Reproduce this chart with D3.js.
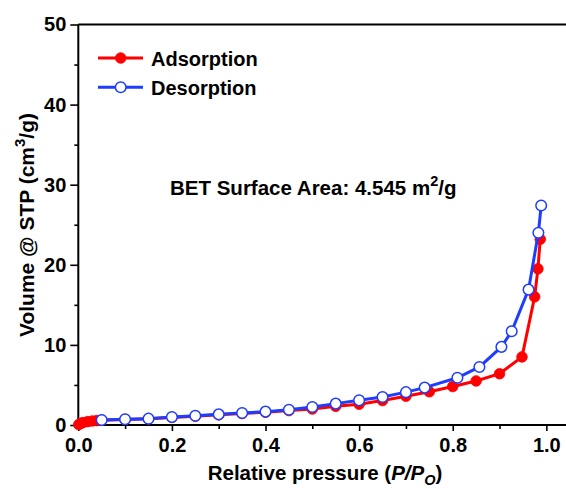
<!DOCTYPE html>
<html>
<head>
<meta charset="utf-8">
<script src="https://cdn.jsdelivr.net/npm/d3@7"></script>
<style>
  body { margin: 0; background: #fff; }
  svg text { font-family: "Liberation Sans", Arial, sans-serif; font-weight: bold; fill: #000; }
</style>
</head>
<body>
<svg id="chart" width="566" height="489"></svg>
<script>
// ── Data ──────────────────────────────────────────────────────────────────────
const adsP = [0.001, 0.005, 0.01, 0.02, 0.03, 0.04, 0.05, 0.1, 0.15, 0.2, 0.25, 0.3, 0.35, 0.4, 0.45,
  0.5, 0.55, 0.6, 0.65, 0.7, 0.75, 0.8, 0.85, 0.9, 0.948, 0.975, 0.982, 0.987];
const adsV = [0.05, 0.2, 0.3, 0.42, 0.5, 0.56, 0.6, 0.7, 0.78, 0.95, 1.1, 1.27, 1.43, 1.6, 1.8,
  2.0, 2.33, 2.6, 3.05, 3.6, 4.15, 4.8, 5.5, 6.4, 8.5, 16.0, 19.5, 23.2];
const desP = [0.05, 0.1, 0.15, 0.2, 0.25, 0.3, 0.35, 0.4, 0.45, 0.5, 0.55, 0.6, 0.65, 0.7, 0.74,
  0.81, 0.857, 0.904, 0.926, 0.962, 0.983, 0.989];
const desV = [0.62, 0.71, 0.79, 1.0, 1.16, 1.33, 1.5, 1.67, 1.9, 2.25, 2.67, 3.08, 3.5, 4.1, 4.67,
  5.9, 7.25, 9.75, 11.7, 16.9, 24.0, 27.4];
const xTicks = [0, 0.2, 0.4, 0.6, 0.8, 1.0];
const yTicks = [0, 10, 20, 30, 40, 50];

const series = [
  { name: "Adsorption", color: "#ff0000", filled: true, pts: adsP.map((p, i) => [p, adsV[i]]) },
  { name: "Desorption", color: "#1f3dff", filled: false, pts: desP.map((p, i) => [p, desV[i]]) },
];

// ── Scales ────────────────────────────────────────────────────────────────────
const svg = d3.select("#chart");
const mLeft = 78.3, mRight = 566, mTop = 24.5, mBottom = 425;
const x = d3.scaleLinear().domain([0, 1.042]).range([mLeft, mRight]);
const y = d3.scaleLinear().domain([0, 50]).range([mBottom, mTop]);

// frame: top line (right side falls outside the picture)
svg.append("line").attr("x1", mLeft).attr("x2", mRight).attr("y1", mTop).attr("y2", mTop)
  .attr("stroke", "#000").attr("stroke-width", 2);

const xAxis = svg.append("g").attr("transform", `translate(0,${mBottom})`)
  .call(d3.axisBottom(x).tickValues(xTicks).tickFormat(d3.format(".1f")).tickSize(6).tickPadding(7));
const xMinor = svg.append("g").attr("transform", `translate(0,${mBottom})`)
  .call(d3.axisBottom(x).tickValues([0.1, 0.3, 0.5, 0.7, 0.9]).tickFormat("").tickSize(4));
const yAxis = svg.append("g").attr("transform", `translate(${mLeft},0)`)
  .call(d3.axisLeft(y).tickValues(yTicks).tickSize(8).tickPadding(4));
const yMinor = svg.append("g").attr("transform", `translate(${mLeft},0)`)
  .call(d3.axisLeft(y).tickValues([5, 15, 25, 35, 45]).tickFormat("").tickSize(4));

[xAxis, xMinor, yAxis, yMinor].forEach((g) => {
  g.select(".domain").attr("stroke-width", 2);
  g.selectAll(".tick line").attr("stroke-width", 1.6);
  g.selectAll("text").attr("font-size", 20).attr("font-family", null);
});
xMinor.select(".domain").remove();
yMinor.select(".domain").remove();
xAxis.select(".domain").attr("d", `M${mLeft},0H${mRight}`);
yAxis.select(".domain").attr("d", `M0,${mBottom}V${mTop}`);

// ── Series ────────────────────────────────────────────────────────────────────
const line = d3.line().x((d) => x(d[0])).y((d) => y(d[1]));
series.forEach((s) => {
  const g = svg.append("g");
  g.append("path").datum(s.pts).attr("d", line)
    .attr("fill", "none").attr("stroke", s.color).attr("stroke-width", 3);
  g.selectAll("circle").data(s.pts).join("circle")
    .attr("cx", (d) => x(d[0])).attr("cy", (d) => y(d[1]))
    .attr("r", s.filled ? 5.3 : 5.3)
    .attr("fill", s.filled ? s.color : "#fff")
    .attr("stroke", s.color).attr("stroke-width", s.filled ? 0.8 : 1.5);
});

// ── Legend ────────────────────────────────────────────────────────────────────
series.forEach((s, i) => {
  const ly = 58 + i * 29.3;
  svg.append("line").attr("x1", 98).attr("x2", 143).attr("y1", ly).attr("y2", ly)
    .attr("stroke", s.color).attr("stroke-width", 3);
  svg.append("circle").attr("cx", 120.7).attr("cy", ly).attr("r", 5.3)
    .attr("fill", s.filled ? s.color : "#fff").attr("stroke", s.color)
    .attr("stroke-width", s.filled ? 0.8 : 1.5);
  svg.append("text").attr("x", 151).attr("y", ly + 8).attr("font-size", 20).text(s.name);
});

// ── Annotation and axis titles ────────────────────────────────────────────────
const bet = svg.append("text").attr("x", 170).attr("y", 195).attr("font-size", 20.5);
bet.append("tspan").text("BET Surface Area: 4.545 m");
bet.append("tspan").attr("dy", -9).attr("font-size", 14.5).text("2");
bet.append("tspan").attr("dy", 9).text("/g");

const xt = svg.append("text").attr("x", 325).attr("y", 480).attr("text-anchor", "middle").attr("font-size", 20.5);
xt.append("tspan").text("Relative pressure (");
xt.append("tspan").attr("font-style", "italic").text("P/P");
xt.append("tspan").attr("font-style", "italic").attr("dy", 5).attr("font-size", 14.5).text("O");
xt.append("tspan").attr("dy", -5).text(")");

const yt = svg.append("text").attr("transform", "translate(34,225) rotate(-90)")
  .attr("text-anchor", "middle").attr("font-size", 21);
yt.append("tspan").text("Volume @ STP (cm");
yt.append("tspan").attr("dy", -9).attr("font-size", 15).text("3");
yt.append("tspan").attr("dy", 9).text("/g)");
</script>
</body>
</html>
